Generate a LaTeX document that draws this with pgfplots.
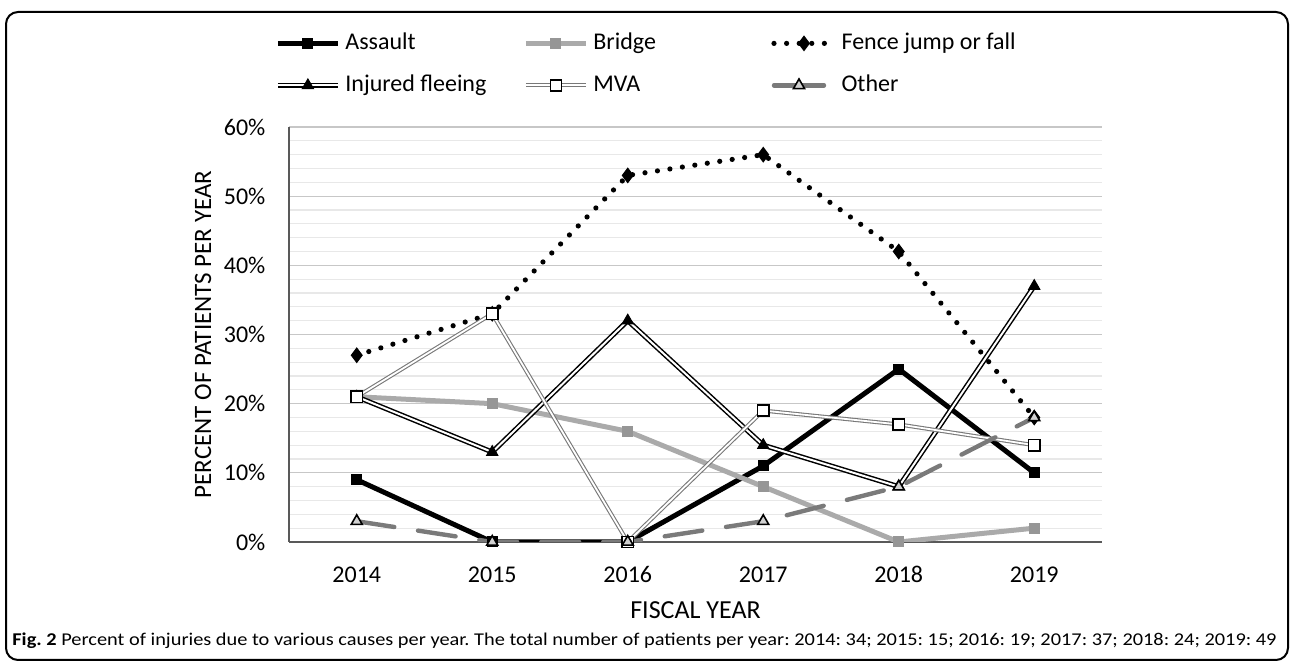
\documentclass[border=0pt]{standalone}
\usepackage{graphicx}
\usepackage{pgfplots}
\pgfplotsset{compat=1.18}
\usepackage{fontspec}
\setmainfont{Carlito}
\definecolor{bridgeline}{RGB}{170,170,170}
\definecolor{bridgemark}{RGB}{150,150,150}
\definecolor{othergray}{RGB}{122,122,122}
\definecolor{mvagray}{RGB}{120,120,120}
\pgfplotsset{
  injlegend/.style={legend image code/.code={\draw[black,line width=2.5pt](0pt,0pt)--(30pt,0pt); \draw[white,line width=1pt](0pt,0pt)--(30pt,0pt); \draw[##1] plot coordinates {(15pt,0pt)};}},
  mvalegend/.style={legend image code/.code={\draw[mvagray,line width=2pt](0pt,0pt)--(30pt,0pt); \draw[white,line width=0.9pt](0pt,0pt)--(30pt,0pt); \draw[##1] plot coordinates {(15pt,0pt)};}},
  otherlegend/.style={legend image code/.code={\draw[##1, solid] (0pt,0pt)--(25pt,0pt); \draw[##1, solid] plot coordinates {(12.5pt,0pt)};}},
}
\frenchspacing
\begin{document}
\begin{tikzpicture}
\useasboundingbox (0pt,0pt) rectangle (646pt,331pt);
\draw[line width=1pt, rounded corners=6pt] (3pt,1pt) rectangle (644pt,325pt);
\begin{axis}[
  at={(144.5pt,60pt)}, anchor=south west,
  width=406.5pt, height=207.5pt, scale only axis,
  xmin=-0.5, xmax=5.5, ymin=0, ymax=60,
  xtick={0,...,5}, xticklabels={2014,2015,2016,2017,2018,2019},
  ytick={0,10,...,60},
  yticklabel={\pgfmathparse{int(\tick)}\pgfmathresult\%},
  minor y tick num=4,
  ymajorgrids, yminorgrids,
  major grid style={draw=black!22, line width=0.6pt},
  minor grid style={draw=black!9, line width=0.6pt},
  axis lines=left, axis line style={-, draw=black!65, line width=0.6pt},
  tick style={draw=none},
  ticklabel style={font=\fontsize{12}{14}\selectfont, inner sep=0pt},
  yticklabel style={anchor=east, xshift=-9.5pt},
  xticklabel style={anchor=base, yshift=-18pt},
  xlabel={FISCAL YEAR}, ylabel={PERCENT OF PATIENTS PER YEAR},
  xlabel style={font=\fontsize{13}{15}\selectfont, at={(axis description cs:0.5,-0.165)}, anchor=center},
  ylabel style={font=\fontsize{12.5}{15}\selectfont, at={(axis description cs:-0.1058,0.5)}, anchor=center},
  legend columns=3,
  legend style={draw=none, fill=none, at={(axis description cs:-0.0246,1.2386)}, anchor=north west,
    font=\fontsize{12}{14}\selectfont, nodes={inner sep=0pt, text height=8.5pt, text depth=2.5pt},
    row sep=10pt, column sep=0pt,
    /tikz/every odd column/.append style={column sep=2.5pt}},
  legend cell align=left,
  legend image code/.code={\draw[mark repeat=2,mark phase=2,#1] plot coordinates {(0pt,0pt) (15pt,0pt) (30pt,0pt)};},
]
% Assault
\addplot[black, line width=2.5pt, mark=square*, mark size=2.5pt, mark options={solid, line width=0.5pt}]
  coordinates {(0,9)(1,0)(2,0)(3,11)(4,25)(5,10)};
\addlegendentry{\makebox[89pt][l]{Assault}}
% Bridge
\addplot[bridgeline, line width=2.5pt, mark=square*, mark size=2.5pt, mark options={solid, line width=0.5pt, fill=bridgemark, draw=bridgemark}]
  coordinates {(0,21)(1,20)(2,16)(3,8)(4,0)(5,2)};
\addlegendentry{\makebox[89pt][l]{Bridge}}
% Fence jump or fall
\addplot[black, line width=2.6pt, line cap=round, dash pattern=on 0pt off 6.3pt, mark=diamond*, mark size=3.6pt, mark options={solid, line width=0.5pt}]
  coordinates {(0,27)(1,33)(2,53)(3,56)(4,42)(5,18)};
\addlegendentry{Fence jump or fall}
% Injured fleeing
\addplot[black, line width=2.5pt, forget plot] coordinates {(0,21)(1,13)(2,32)(3,14)(4,8)(5,37)};
\addplot[white, line width=1pt, forget plot] coordinates {(0,21)(1,13)(2,32)(3,14)(4,8)(5,37)};
\addplot[only marks, black, mark=triangle*, mark size=3.2pt, mark options={solid, line width=0.5pt}, injlegend]
  coordinates {(0,21)(1,13)(2,32)(3,14)(4,8)(5,37)};
\addlegendentry{\makebox[89pt][l]{Injured fleeing}}
% MVA
\addplot[mvagray, line width=2pt, forget plot] coordinates {(0,21)(1,33)(2,0)(3,19)(4,17)(5,14)};
\addplot[white, line width=0.9pt, forget plot] coordinates {(0,21)(1,33)(2,0)(3,19)(4,17)(5,14)};
\addplot[only marks, mark=square*, mark size=2.8pt, mark options={solid, fill=white, draw=black, line width=0.8pt}, mvalegend]
  coordinates {(0,21)(1,33)(2,0)(3,19)(4,17)(5,14)};
\addlegendentry{\makebox[89pt][l]{MVA}}
% Other
\addplot[othergray, line width=2.2pt, line cap=round, dash pattern=on 19pt off 12pt, mark=triangle*, mark size=3.2pt,
  mark options={solid, fill=black!18, draw=black, line width=0.8pt}, otherlegend]
  coordinates {(0,3)(1,0)(2,0)(3,3)(4,8)(5,18)};
\addlegendentry{Other}
\end{axis}
\node[anchor=base west, inner sep=0pt, font=\fontsize{9}{11}\selectfont] at (6pt,8pt)
  {\scalebox{1.131}[1]{\textbf{Fig. 2} Percent of injuries due to various causes per year. The total number of patients per year: 2014: 34; 2015: 15; 2016: 19; 2017: 37; 2018: 24; 2019: 49}};
\end{tikzpicture}
\end{document}
